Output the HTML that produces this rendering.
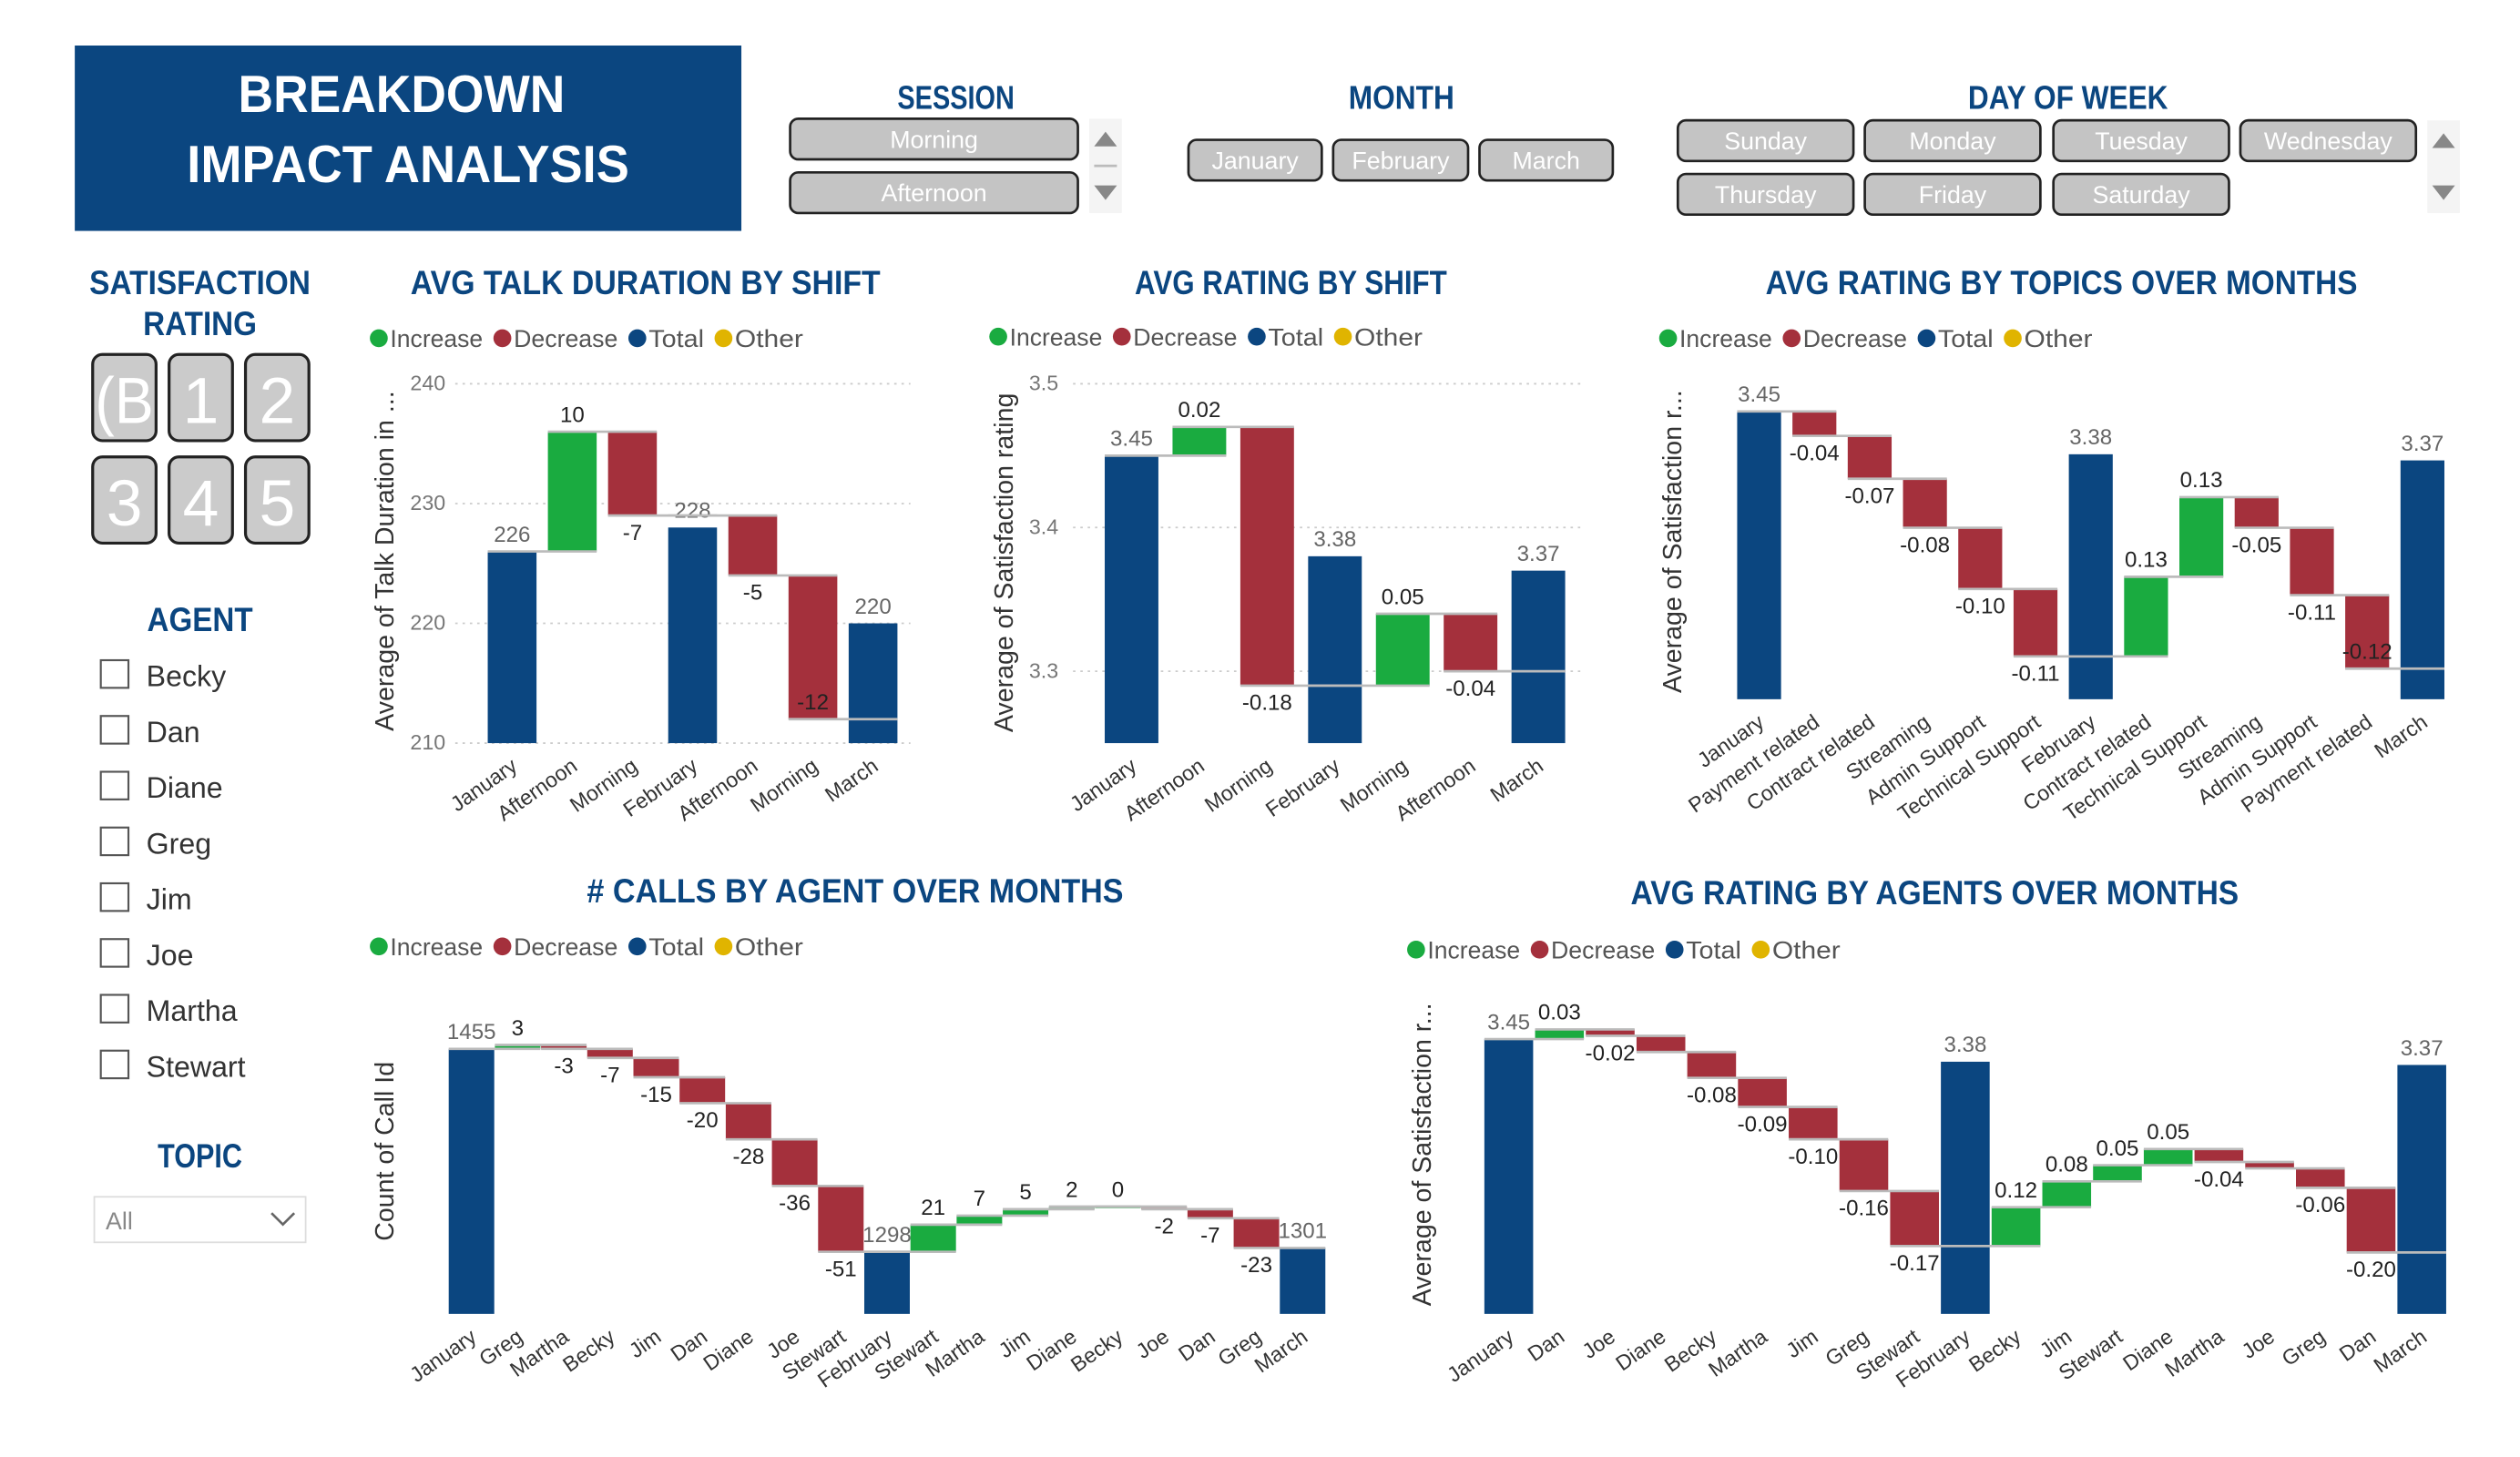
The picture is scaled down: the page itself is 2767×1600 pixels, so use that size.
<!DOCTYPE html>
<html><head><meta charset="utf-8">
<style>
html,body{margin:0;padding:0;background:#fff;width:2767px;height:1600px;overflow:hidden}
svg{display:block}
text{font-family:"Liberation Sans",sans-serif}
.cond{font-family:"Liberation Sans Narrow","Liberation Sans",sans-serif;font-weight:bold}
</style></head>
<body>
<svg id="root" width="2767" height="1600" viewBox="0 0 1550 896" preserveAspectRatio="none" xmlns="http://www.w3.org/2000/svg">
  <g>
    <rect x="46" y="28" width="410" height="114" fill="#0b4680"/>
    <text x="247" y="69" text-anchor="middle" fill="#fff" font-size="32" class="cond" textLength="201" lengthAdjust="spacingAndGlyphs">BREAKDOWN</text>
    <text x="251" y="112" text-anchor="middle" fill="#fff" font-size="32" class="cond" textLength="272" lengthAdjust="spacingAndGlyphs">IMPACT ANALYSIS</text>
  </g>
  <g id="slicers"></g>
  <g id="left"></g>
  <g id="charts"></g>
</svg>
<script>
// ===== Chart data =====
const c1Cats = ["January","Afternoon","Morning","February","Afternoon","Morning","March"];
const c1Vals = [226, 10, -7, 228, -5, -12, 220];
const c1Types = ["t","d","d","t","d","d","t"];
const c1Labels = ["226","10","-7","228","-5","-12","220"];
const c1Ticks = [210, 220, 230, 240];
const c2Cats = ["January","Afternoon","Morning","February","Morning","Afternoon","March"];
const c2Vals = [3.45, 0.02, -0.18, 3.38, 0.05, -0.04, 3.37];
const c2Types = ["t","d","d","t","d","d","t"];
const c2Labels = ["3.45","0.02","-0.18","3.38","0.05","-0.04","3.37"];
const c2Ticks = [3.3, 3.4, 3.5];
const c3Cats = ["January","Payment related","Contract related","Streaming","Admin Support","Technical Support","February","Contract related","Technical Support","Streaming","Admin Support","Payment related","March"];
const c3Vals = [3.45, -0.04, -0.07, -0.08, -0.10, -0.11, 3.38, 0.13, 0.13, -0.05, -0.11, -0.12, 3.37];
const c3Types = ["t","d","d","d","d","d","t","d","d","d","d","d","t"];
const c3Labels = ["3.45","-0.04","-0.07","-0.08","-0.10","-0.11","3.38","0.13","0.13","-0.05","-0.11","-0.12","3.37"];
const c4Cats = ["January","Greg","Martha","Becky","Jim","Dan","Diane","Joe","Stewart","February","Stewart","Martha","Jim","Diane","Becky","Joe","Dan","Greg","March"];
const c4Vals = [1455, 3, -3, -7, -15, -20, -28, -36, -51, 1298, 21, 7, 5, 2, 0, -2, -7, -23, 1301];
const c4Types = ["t","d","d","d","d","d","d","d","d","t","d","d","d","d","d","d","d","d","t"];
const c4Labels = ["1455","3","-3","-7","-15","-20","-28","-36","-51","1298","21","7","5","2","0","-2","-7","-23","1301"];
const c5Cats = ["January","Dan","Joe","Diane","Becky","Martha","Jim","Greg","Stewart","February","Becky","Jim","Stewart","Diane","Martha","Joe","Greg","Dan","March"];
const c5Vals = [3.45, 0.03, -0.02, -0.05, -0.08, -0.09, -0.10, -0.16, -0.17, 3.38, 0.12, 0.08, 0.05, 0.05, -0.04, -0.02, -0.06, -0.20, 3.37];
const c5Types = ["t","d","d","d","d","d","d","d","d","t","d","d","d","d","d","d","d","d","t"];
const c5Labels = ["3.45","0.03","-0.02","","-0.08","-0.09","-0.10","-0.16","-0.17","3.38","0.12","0.08","0.05","0.05","-0.04","","-0.06","-0.20","3.37"];

const NS = "http://www.w3.org/2000/svg";
function mk(parent, tag, attrs, txt){
  const e = document.createElementNS(NS, tag);
  for (const k in attrs) e.setAttribute(k, attrs[k]);
  if (txt !== undefined) e.textContent = txt;
  parent.appendChild(e);
  return e;
}
const BLUE="#0b4680", GREEN="#1aab40", RED="#a4303c", GOLD="#e0b400";

const sl = document.getElementById("slicers");
function header(x,y,t,size,name,len){
  const e = mk(sl,"text",{x:x,y:y,"text-anchor":"middle",fill:BLUE,"font-size":size,class:"cond",textLength:len,lengthAdjust:"spacingAndGlyphs"},t);
  
  
}
function btn(parent,x,y,w,h,t,fs,name){
  const g = mk(parent,"g",{});
  
  
  mk(g,"rect",{x:x,y:y,width:w,height:h,rx:5,fill:"#c4c4c4",stroke:"#222","stroke-width":1.5});
  mk(g,"text",{x:x+w/2,y:y+h/2+fs*0.36,"text-anchor":"middle",fill:"#fff","font-size":fs},t);
}
function arrows(x,y1,y2,name){
  const g = mk(sl,"g",{});
  
  
  mk(g,"rect",{x:x-10,y:y1-12,width:20,height:(y2-y1)+24,fill:"#f4f4f4"});
  mk(g,"path",{d:`M${x-7} ${y1+5} L${x+7} ${y1+5} L${x} ${y1-4} Z`,fill:"#888"});
  mk(g,"path",{d:`M${x-7} ${y2-5} L${x+7} ${y2-5} L${x} ${y2+4} Z`,fill:"#888"});
}
header(588,67,"SESSION",20,"session-title",72);
btn(sl,486,73,177,25,"Morning",15,"session-morning-button");
btn(sl,486,106,177,25,"Afternoon",15,"session-afternoon-button");
arrows(680,85,119,"session-scroll");
mk(sl,"line",{x1:673,x2:687,y1:102,y2:102,stroke:"#bbb","stroke-width":1.5});
header(862,67,"MONTH",20,"month-title",65);
btn(sl,731,86,82,25,"January",15,"month-january-button");
btn(sl,820,86,83,25,"February",15,"month-february-button");
btn(sl,910,86,82,25,"March",15,"month-march-button");
header(1272,67,"DAY OF WEEK",20,"day-of-week-title",123);
const days1=["Sunday","Monday","Tuesday","Wednesday"], dx=[1032,1147,1263,1378];
days1.forEach((d,i)=>btn(sl,dx[i],74,108,25,d,15,"day-"+d.toLowerCase()+"-button"));
["Thursday","Friday","Saturday"].forEach((d,i)=>btn(sl,dx[i],107,108,25,d,15,"day-"+d.toLowerCase()+"-button"));
arrows(1503,86,119,"day-scroll");

const lf = document.getElementById("left");
function ltitle(x,y,t,name,len){
  const e = mk(lf,"text",{x:x,y:y,"text-anchor":"middle",fill:BLUE,"font-size":21,class:"cond",textLength:len,lengthAdjust:"spacingAndGlyphs"},t);
  
  
}
ltitle(123,181,"SATISFACTION","satisfaction-rating-title",136);
ltitle(123,206,"RATING","satisfaction-rating-title-2",70);
const rb = ["(B","1","2","3","4","5"], rbx=[57,104,151];
rb.forEach((t,i)=>{
  const x=rbx[i%3], y= i<3?218:281;
  const g = mk(lf,"g",{});
  
  
  mk(g,"rect",{x:x,y:y,width:39,height:53,rx:6,fill:"#cbcbcb",stroke:"#222","stroke-width":1.8});
  const te = mk(g,"text",{x:x+19.5,y:y+42,"text-anchor":"middle",fill:"#fff","font-size":40},t);
  if(t==="(B"){ te.setAttribute("textLength","36"); te.setAttribute("lengthAdjust","spacingAndGlyphs"); }
});
ltitle(123,388,"AGENT","agent-title",65);
["Becky","Dan","Diane","Greg","Jim","Joe","Martha","Stewart"].forEach((n,i)=>{
  const y = 415 + i*34.3;
  const g = mk(lf,"g",{});
  
  
  mk(g,"rect",{x:62,y:y-9,width:17,height:17,fill:"#fff",stroke:"#555","stroke-width":1.2});
  mk(g,"text",{x:90,y:y+7,fill:"#333","font-size":18},n);
});
ltitle(123,718,"TOPIC","topic-title",52);
{
  const g = mk(lf,"g",{});
  
  
  mk(g,"rect",{x:58,y:736,width:130,height:28,fill:"#fff",stroke:"#ddd","stroke-width":1});
  mk(g,"text",{x:65,y:756,fill:"#888","font-size":15},"All");
  mk(g,"path",{d:"M167 746 L174 753 L181 746",fill:"none",stroke:"#666","stroke-width":1.5});
}

const ch = document.getElementById("charts");
function legend(x,y,name){
  const g = mk(ch,"g",{});
  
  
  const items=[["Increase",GREEN,57],["Decrease",RED,64],["Total",BLUE,34],["Other",GOLD,42]];
  let cx=x;
  items.forEach(it=>{
    mk(g,"circle",{cx:cx+6,cy:y,r:5.5,fill:it[1]});
    mk(g,"text",{x:cx+13,y:y+5.5,fill:"#555","font-size":15,textLength:it[2],lengthAdjust:"spacingAndGlyphs"},it[0]);
    cx += 13+it[2]+6;
  });
}
function ctitle(x,y,t,name,len){
  const e = mk(ch,"text",{x:x,y:y,"text-anchor":"middle",fill:BLUE,"font-size":21,class:"cond",textLength:len,lengthAdjust:"spacingAndGlyphs"},t);
  
  
}
function ytitle(x,y,t,name){
  const e = mk(ch,"text",{x:x,y:y,"text-anchor":"middle",fill:"#333","font-size":16,transform:`rotate(-90 ${x} ${y})`},t);
  
  
}
function waterfall(cfg, cats, vals, types, labels, ticks){
  const g = mk(ch,"g",{});
  
  
  const y = v => cfg.y0 + (v - cfg.min)/(cfg.max - cfg.min)*(cfg.y1 - cfg.y0);
  const x = i => cfg.x0 + i*cfg.step;
  const w = cfg.w;
  if (ticks){
    ticks.forEach(t=>{
      const tl = mk(g,"line",{x1:cfg.gx0,x2:cfg.gx1,y1:y(t),y2:y(t),stroke:"#ccc","stroke-width":1,"stroke-dasharray":"1.5 3"});
      
      
      const tt = mk(g,"text",{x:cfg.tickX,y:y(t)+4,"text-anchor":"end",fill:"#777","font-size":13},cfg.fmt?cfg.fmt(t):String(t));
      
      
    });
  }
  let running = 0;
  cats.forEach((c,i)=>{
    const cx = x(i);
    let top, bot, fill, prev = running, labY, labCol = "#222";
    if (types[i]==="t"){
      top = y(vals[i]); bot = y(cfg.min); fill = BLUE;
      if (i===0) running = vals[i];
      labY = top - 6; labCol = "#666";
    } else {
      const nv = running + vals[i];
      top = y(Math.max(running,nv)); bot = y(Math.min(running,nv));
      fill = vals[i] >= 0 ? GREEN : RED;
      running = nv;
      if (vals[i] >= 0) labY = top - 6;
      else { labY = bot + 15; if (labY > y(cfg.min) - 4) labY = bot - 6; }
    }
    const r = mk(g,"rect",{x:cx-w/2,y:top,width:w,height:Math.max(bot-top,1),fill:fill});
    
    
    if (i>0){
      const cl = mk(g,"line",{x1:x(i-1)-w/2,x2:cx+w/2,y1:y(prev),y2:y(prev),stroke:"#bbb","stroke-width":1.5});
      
      
    }
    if (labels[i]!==""){
      const lt = mk(g,"text",{x:cx,y:labY,"text-anchor":"middle",fill:labCol,"font-size":13.5},labels[i]);
      
      
    }
    const ax = mk(g,"text",{x:cx+4,y:y(cfg.min)+16,"text-anchor":"end",fill:"#333","font-size":13,transform:`rotate(-35 ${cx+4} ${y(cfg.min)+16})`},c);
    
    
  });
}

ctitle(397,181,"AVG TALK DURATION BY SHIFT","talk-duration-title",289);
legend(227,208,"talk-duration-legend");
ytitle(242,345,"Average of Talk Duration in ...","talk-duration-y-title");
waterfall({name:"talk-duration-chart",min:210,max:240,y0:457,y1:236,x0:315,step:37,w:30,gx0:280,gx1:560,tickX:274},c1Cats,c1Vals,c1Types,c1Labels,c1Ticks);

ctitle(794,181,"AVG RATING BY SHIFT","rating-shift-title",192);
legend(608,207,"rating-shift-legend");
ytitle(623,346,"Average of Satisfaction rating","rating-shift-y-title");
waterfall({name:"rating-shift-chart",min:3.25,max:3.5,y0:457,y1:236,x0:696,step:41.7,w:33,gx0:660,gx1:975,tickX:651,fmt:t=>t.toFixed(1)},c2Cats,c2Vals,c2Types,c2Labels,c2Ticks);

ctitle(1268,181,"AVG RATING BY TOPICS OVER MONTHS","rating-topics-title",364);
legend(1020,208,"rating-topics-legend");
ytitle(1034,333,"Average of Satisfaction r...","rating-topics-y-title");
waterfall({name:"rating-topics-chart",min:2.98,max:3.45,y0:430,y1:253,x0:1082,step:34,w:27},c3Cats,c3Vals,c3Types,c3Labels,null);

ctitle(526,555,"# CALLS BY AGENT OVER MONTHS","calls-agent-title",330);
legend(227,582,"calls-agent-legend");
ytitle(242,708,"Count of Call Id","calls-agent-y-title");
waterfall({name:"calls-agent-chart",min:1250,max:1455,y0:808,y1:645,x0:290,step:28.4,w:28},c4Cats,c4Vals,c4Types,c4Labels,null);

ctitle(1190,556,"AVG RATING BY AGENTS OVER MONTHS","rating-agents-title",374);
legend(865,584,"rating-agents-legend");
ytitle(880,710,"Average of Satisfaction r...","rating-agents-y-title");
waterfall({name:"rating-agents-chart",min:2.60,max:3.45,y0:808,y1:639,x0:928,step:31.2,w:30},c5Cats,c5Vals,c5Types,c5Labels,null);
</script>
</body></html>
